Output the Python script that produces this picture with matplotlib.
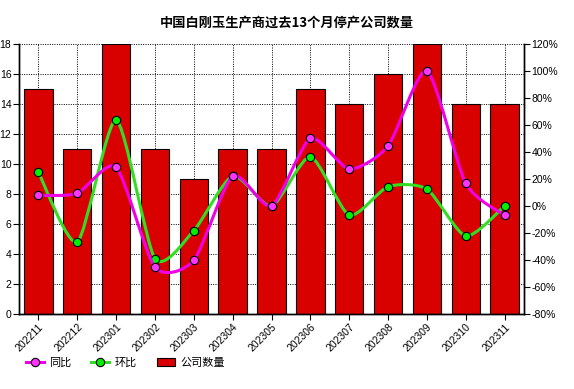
import matplotlib
matplotlib.use("Agg")
import matplotlib.pyplot as plt
from matplotlib.path import Path
from matplotlib.patches import PathPatch
from matplotlib.lines import Line2D
from matplotlib.patches import Patch
import numpy as np

plt.rcParams['font.family'] = ['Noto Sans CJK SC', 'DejaVu Sans']

months = ["202211", "202212", "202301", "202302", "202303", "202304", "202305",
          "202306", "202307", "202308", "202309", "202310", "202311"]
companies = [15, 11, 18, 11, 9, 11, 11, 15, 14, 16, 18, 14, 14]
yoy = [7.8, 9.4, 28.7, -45.4, -40.2, 22.2, 0.0, 50.0, 27.4, 44.4, 100.0, 16.8, -6.9]
mom = [25.0, -26.7, 63.6, -38.9, -18.2, 22.2, 0.0, 36.4, -6.7, 14.3, 12.5, -22.2, 0.0]

title = "中国白刚玉生产商过去13个月停产公司数量"

fig = plt.figure(figsize=(5.74, 3.89), dpi=100)
ax = fig.add_axes([0.0331, 0.1928, 0.9129 - 0.0331, 0.8869 - 0.1928])
ax2 = ax.twinx()

x = np.arange(len(months))
ax.bar(x, companies, width=0.73, color="#D90000", edgecolor="black", linewidth=0.8, zorder=2)
ax.set_xlim(-0.5, len(months) - 0.5)
ax.set_ylim(0, 18)
ax.set_yticks(range(0, 19, 2))
ax.grid(True, linestyle=(0, (1, 1.4)), color="black", linewidth=0.7, zorder=0)
ax.set_axisbelow(True)
ax.set_xticks(x)
ax.set_xticklabels(months, rotation=45, ha="right", rotation_mode="anchor", fontsize=7.5,
                   family=['Liberation Sans', 'DejaVu Sans'])
for lab in ax.get_yticklabels():
    lab.set_fontsize(7.5)
    lab.set_family(['Liberation Sans', 'DejaVu Sans'])

ax2.set_ylim(-80, 120)
ax2.set_yticks(range(-80, 121, 20))
ax2.set_yticklabels([f"{v}%" for v in range(-80, 121, 20)], fontsize=7.5,
                    family=['Liberation Sans', 'DejaVu Sans'])

for a in (ax, ax2):
    a.tick_params(axis='both', length=4, width=0.8, pad=1.5)
    for s in a.spines.values():
        s.set_linewidth(1.0)
ax2.spines['top'].set_visible(False)
ax.spines['top'].set_visible(False)


def smooth_path(xs, ys, t=0.35):
    xs = np.asarray(xs, float)
    ys = np.asarray(ys, float)
    n = len(xs)
    verts = [(xs[0], ys[0])]
    codes = [Path.MOVETO]
    for i in range(n - 1):
        p0 = np.array([xs[max(i - 1, 0)], ys[max(i - 1, 0)]])
        p1 = np.array([xs[i], ys[i]])
        p2 = np.array([xs[i + 1], ys[i + 1]])
        p3 = np.array([xs[min(i + 2, n - 1)], ys[min(i + 2, n - 1)]])
        c1 = p1 + (p2 - p0) * t / 3.0
        c2 = p2 - (p3 - p1) * t / 3.0
        verts += [tuple(c1), tuple(c2), tuple(p2)]
        codes += [Path.CURVE4] * 3
    return Path(verts, codes)


ax2.add_patch(PathPatch(smooth_path(x, mom), facecolor="none", edgecolor="#33DD22",
                        linewidth=2.2, zorder=3))
ax2.plot(x, mom, linestyle="none", marker="o", markersize=6, markerfacecolor="#00EE00",
         markeredgecolor="black", markeredgewidth=0.8, zorder=4)
ax2.add_patch(PathPatch(smooth_path(x, yoy), facecolor="none", edgecolor="#F000E8",
                        linewidth=2.2, zorder=5))
ax2.plot(x, yoy, linestyle="none", marker="o", markersize=6, markerfacecolor="#FF33FF",
         markeredgecolor="black", markeredgewidth=0.8, zorder=6)

fig.text(0.5, 0.943, title, ha="center", va="center", fontsize=9.5, fontweight="bold")

handles = [
    Line2D([0], [0], color="#F000E8", linewidth=2.2, marker="o", markersize=6,
           markerfacecolor="#FF33FF", markeredgecolor="black", markeredgewidth=0.8),
    Line2D([0], [0], color="#33DD22", linewidth=2.2, marker="o", markersize=6,
           markerfacecolor="#00EE00", markeredgecolor="black", markeredgewidth=0.8),
    Patch(facecolor="#D90000", edgecolor="black", linewidth=0.8),
]
fig.legend(handles, ["同比", "环比", "公司数量"], loc="center left", bbox_to_anchor=(0.045, 0.067),
           ncol=3, frameon=False, fontsize=8, handlelength=1.6, handletextpad=0.5,
           columnspacing=1.8, borderaxespad=0, borderpad=0)

fig.savefig("out.png", dpi=100)
